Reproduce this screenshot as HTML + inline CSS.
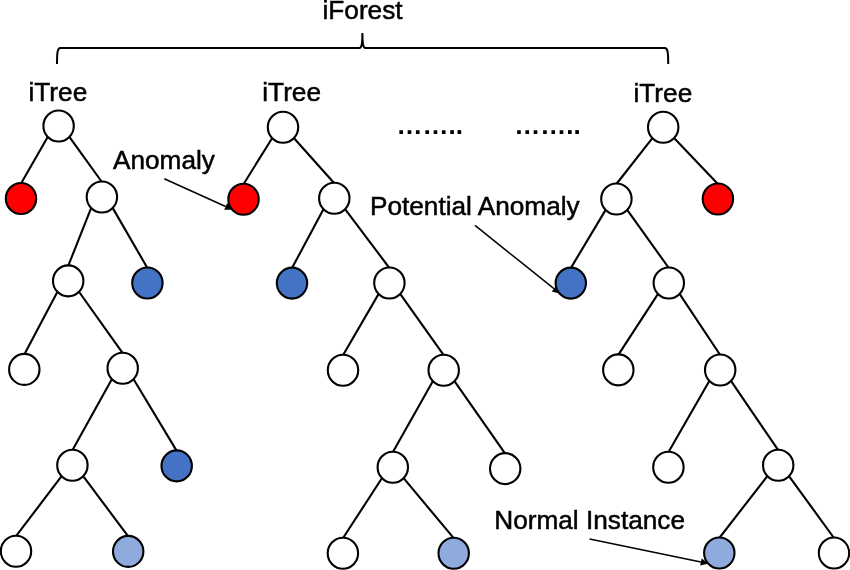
<!DOCTYPE html>
<html lang="en">
<head>
<meta charset="utf-8">
<title>iForest</title>
<style>
html,body{margin:0;padding:0;background:#fff;}
body{width:850px;height:570px;overflow:hidden;}
svg{display:block;}
text{font-family:"Liberation Sans",Arial,Helvetica,sans-serif;fill:#000;stroke:#000;stroke-width:0.5px;}
.e{stroke:#000;stroke-width:2.1;stroke-linecap:butt;fill:none;}
.n{stroke:#000;stroke-width:2.1;}
.t{font-size:26.2px;}
.d{font-size:26px;font-weight:bold;stroke:none;}
</style>
</head>
<body>
<svg width="850" height="570" viewBox="0 0 850 570">
<rect width="850" height="570" fill="#fff"/>

<path class="e" style="stroke-width:2" d="M57,64 C57,52 57.5,48 60.5,48 H359.4 C361.6,48 362.4,44 362.4,33 C362.4,44 363.2,48 365.4,48 H664.7 C667.7,48 668.2,52 668.2,64"/>
<line x1="164.3" y1="178.7" x2="225.6" y2="206.5" stroke="#000" stroke-width="1.5"/><polygon points="232.9,209.8 224.2,209.7 227.1,203.3" fill="#000"/>
<line x1="475.0" y1="225.4" x2="554.0" y2="288.7" stroke="#000" stroke-width="1.5"/><polygon points="560.2,293.7 551.8,291.4 556.1,286.0" fill="#000"/>
<line x1="589.6" y1="539.0" x2="700.9" y2="562.0" stroke="#000" stroke-width="1.5"/><polygon points="708.7,563.6 700.2,565.4 701.6,558.6" fill="#000"/>
<line class="e" x1="48.0" y1="136.6" x2="21.0" y2="183.5"/>
<line class="e" x1="69.2" y1="136.6" x2="101.9" y2="182.0"/>
<line class="e" x1="91.3" y1="207.6" x2="68.2" y2="265.9"/>
<line class="e" x1="112.5" y1="207.6" x2="147.4" y2="268.0"/>
<line class="e" x1="57.6" y1="291.5" x2="24.3" y2="354.4"/>
<line class="e" x1="78.8" y1="291.5" x2="122.7" y2="353.2"/>
<line class="e" x1="112.1" y1="378.8" x2="72.4" y2="450.3"/>
<line class="e" x1="133.3" y1="378.8" x2="176.7" y2="450.9"/>
<line class="e" x1="61.8" y1="475.9" x2="16.0" y2="536.2"/>
<line class="e" x1="83.0" y1="475.9" x2="128.2" y2="536.4"/>
<ellipse class="n" cx="58.6" cy="126.0" rx="15.2" ry="15.5" fill="#ffffff"/>
<ellipse class="n" cx="21" cy="198.5" rx="15.2" ry="15.5" fill="#ff0000"/>
<ellipse class="n" cx="101.9" cy="197" rx="15.2" ry="15.5" fill="#ffffff"/>
<ellipse class="n" cx="68.2" cy="280.9" rx="15.2" ry="15.5" fill="#ffffff"/>
<ellipse class="n" cx="147.4" cy="283" rx="15.2" ry="15.5" fill="#4472c4"/>
<ellipse class="n" cx="24.3" cy="369.4" rx="15.2" ry="15.5" fill="#ffffff"/>
<ellipse class="n" cx="122.7" cy="368.2" rx="15.2" ry="15.5" fill="#ffffff"/>
<ellipse class="n" cx="72.4" cy="465.3" rx="15.2" ry="15.5" fill="#ffffff"/>
<ellipse class="n" cx="176.7" cy="465.9" rx="15.2" ry="15.5" fill="#4472c4"/>
<ellipse class="n" cx="16" cy="551.2" rx="15.2" ry="15.5" fill="#ffffff"/>
<ellipse class="n" cx="128.2" cy="551.4" rx="15.2" ry="15.5" fill="#8faadc"/>
<line class="e" x1="272.4" y1="137.8" x2="243.5" y2="184.2"/>
<line class="e" x1="293.6" y1="137.8" x2="334.3" y2="183.2"/>
<line class="e" x1="323.7" y1="208.8" x2="292.0" y2="268.1"/>
<line class="e" x1="344.9" y1="208.8" x2="389.4" y2="268.0"/>
<line class="e" x1="378.8" y1="293.6" x2="343.0" y2="355.2"/>
<line class="e" x1="400.0" y1="293.6" x2="443.7" y2="355.2"/>
<line class="e" x1="433.1" y1="380.8" x2="392.8" y2="452.2"/>
<line class="e" x1="454.3" y1="380.8" x2="505.2" y2="453.6"/>
<line class="e" x1="382.2" y1="477.8" x2="342.9" y2="538.2"/>
<line class="e" x1="403.4" y1="477.8" x2="453.7" y2="538.2"/>
<ellipse class="n" cx="283" cy="127.2" rx="15.2" ry="15.5" fill="#ffffff"/>
<ellipse class="n" cx="243.5" cy="199.2" rx="15.2" ry="15.5" fill="#ff0000"/>
<ellipse class="n" cx="334.3" cy="198.2" rx="15.2" ry="15.5" fill="#ffffff"/>
<ellipse class="n" cx="292" cy="283.1" rx="15.2" ry="15.5" fill="#4472c4"/>
<ellipse class="n" cx="389.4" cy="283" rx="15.2" ry="15.5" fill="#ffffff"/>
<ellipse class="n" cx="343" cy="370.2" rx="15.2" ry="15.5" fill="#ffffff"/>
<ellipse class="n" cx="443.7" cy="370.2" rx="15.2" ry="15.5" fill="#ffffff"/>
<ellipse class="n" cx="392.8" cy="467.2" rx="15.2" ry="15.5" fill="#ffffff"/>
<ellipse class="n" cx="505.2" cy="468.6" rx="15.2" ry="15.5" fill="#ffffff"/>
<ellipse class="n" cx="342.9" cy="553.2" rx="15.2" ry="15.5" fill="#ffffff"/>
<ellipse class="n" cx="453.7" cy="553.2" rx="15.2" ry="15.5" fill="#8faadc"/>
<line class="e" x1="652.6" y1="137.8" x2="616.4" y2="184.0"/>
<line class="e" x1="673.8" y1="137.8" x2="717.9" y2="184.0"/>
<line class="e" x1="605.8" y1="209.6" x2="570.8" y2="268.1"/>
<line class="e" x1="627.0" y1="209.6" x2="668.8" y2="268.0"/>
<line class="e" x1="658.2" y1="293.6" x2="618.3" y2="354.9"/>
<line class="e" x1="679.4" y1="293.6" x2="720.2" y2="355.0"/>
<line class="e" x1="709.6" y1="380.6" x2="668.4" y2="452.3"/>
<line class="e" x1="730.8" y1="380.6" x2="778.2" y2="450.2"/>
<line class="e" x1="767.6" y1="475.8" x2="719.3" y2="538.0"/>
<line class="e" x1="788.8" y1="475.8" x2="834.0" y2="538.0"/>
<ellipse class="n" cx="663.2" cy="127.2" rx="15.2" ry="15.5" fill="#ffffff"/>
<ellipse class="n" cx="616.4" cy="199" rx="15.2" ry="15.5" fill="#ffffff"/>
<ellipse class="n" cx="717.9" cy="199" rx="15.2" ry="15.5" fill="#ff0000"/>
<ellipse class="n" cx="570.8" cy="283.1" rx="15.2" ry="15.5" fill="#4472c4"/>
<ellipse class="n" cx="668.8" cy="283" rx="15.2" ry="15.5" fill="#ffffff"/>
<ellipse class="n" cx="618.3" cy="369.9" rx="15.2" ry="15.5" fill="#ffffff"/>
<ellipse class="n" cx="720.2" cy="370" rx="15.2" ry="15.5" fill="#ffffff"/>
<ellipse class="n" cx="668.4" cy="467.3" rx="15.2" ry="15.5" fill="#ffffff"/>
<ellipse class="n" cx="778.2" cy="465.2" rx="15.2" ry="15.5" fill="#ffffff"/>
<ellipse class="n" cx="719.3" cy="553" rx="15.2" ry="15.5" fill="#8faadc"/>
<ellipse class="n" cx="834" cy="553" rx="15.2" ry="15.5" fill="#ffffff"/>
<text class="t" x="322.5" y="18.7">iForest</text>
<text class="t" x="28.5" y="100.5">iTree</text>
<text class="t" x="262.3" y="101.1">iTree</text>
<text class="t" x="633.5" y="101.5">iTree</text>
<text class="t" x="113" y="168.6">Anomaly</text>
<text class="t" x="370.0" y="214.7">Potential Anomaly</text>
<text class="t" x="494.3" y="528.5">Normal Instance</text>
<text class="d" x="396.5" y="133.7">……..</text>
<text class="d" x="514.2" y="133.7">……..</text>
</svg>
</body>
</html>
